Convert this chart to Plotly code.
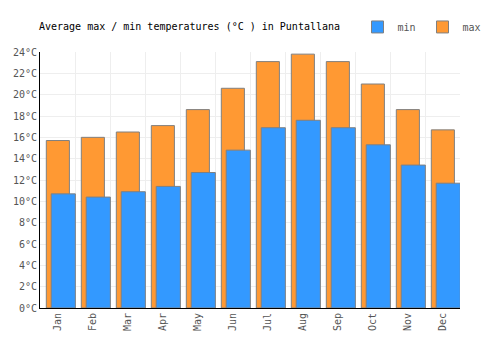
import plotly.graph_objects as go

months = ["Jan", "Feb", "Mar", "Apr", "May", "Jun", "Jul", "Aug", "Sep", "Oct", "Nov", "Dec"]
t_min = [10.7, 10.4, 10.9, 11.4, 12.7, 14.8, 16.9, 17.6, 16.9, 15.3, 13.4, 11.7]
t_max = [15.7, 16.0, 16.5, 17.1, 18.6, 20.6, 23.1, 23.8, 23.1, 21.0, 18.6, 16.7]
y_ticks = list(range(0, 25, 2))
y_labels = [f"{v}°C" for v in y_ticks]

idx = list(range(len(months)))
FONT = "DejaVu Sans Mono"

fig = go.Figure()
fig.add_trace(go.Bar(
    x=idx, y=t_max, name="max", width=0.66, offset=-0.32,
    marker=dict(color="#ff9933", line=dict(color="#808080", width=1)),
    legendrank=2,
))
fig.add_trace(go.Bar(
    x=idx, y=t_min, name="min", width=0.69, offset=-0.18,
    marker=dict(color="#3399ff", line=dict(color="#808080", width=1)),
    legendrank=1,
))

fig.update_layout(
    width=500, height=350,
    margin=dict(l=40, r=40, t=52, b=42, autoexpand=False),
    barmode="overlay",
    plot_bgcolor="white", paper_bgcolor="white",
    font=dict(family=FONT, size=10, color="#555555"),
    title=dict(text="Average max / min temperatures (°C ) in Puntallana",
               x=0.078, xanchor="left", xref="container",
               y=0.923, yanchor="middle", yref="container",
               font=dict(family=FONT, size=10, color="#000000")),
    legend=dict(orientation="h", x=0.715, xanchor="left", xref="container",
                y=0.923, yanchor="middle", yref="container",
                font=dict(family=FONT, size=10, color="#555555"),
                itemwidth=30, entrywidth=20, bgcolor="rgba(0,0,0,0)"),
    showlegend=True,
)
fig.update_xaxes(
    range=[-0.5, 11.5], tickmode="array", tickvals=idx, ticktext=months,
    tickangle=-90, showgrid=False, zeroline=False,
    showline=True, linecolor="#000000", linewidth=1, ticks="",
    minor=dict(tickmode="linear", tick0=0.5, dtick=1, showgrid=True,
               gridcolor="#eeeeee", gridwidth=1, ticks=""),
    fixedrange=True,
)
fig.update_yaxes(
    range=[0, 24], tickmode="array", tickvals=y_ticks, ticktext=y_labels,
    showgrid=True, gridcolor="#eeeeee", gridwidth=1, zeroline=False,
    showline=True, linecolor="#000000", linewidth=1, ticks="",
    fixedrange=True,
)

fig.write_html("out.html")
